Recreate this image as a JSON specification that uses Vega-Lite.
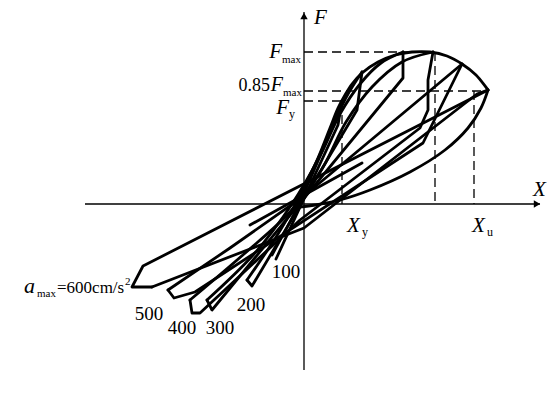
{
  "$schema": "https://vega.github.io/schema/vega-lite/v6.json",
  "width": 547, "height": 395, "padding": 0, "autosize": "none",
  "background": "white",
  "config": {"view": {"stroke": null}},
  "datasets": {
    "axes": [
      {"id": "v", "o": 0, "x": 0, "y": 192}, {"id": "v", "o": 1, "x": 0, "y": -166},
      {"id": "h", "o": 0, "x": -219, "y": 0}, {"id": "h", "o": 1, "x": 236, "y": 0}
    ],
    "arrows": [
      {"s": "triangle-up", "x": 0, "y": 188},
      {"s": "triangle-right", "x": 233, "y": 0}
    ],
    "dash": [
      {"id": "fmax", "o": 0, "x": 0, "y": 152}, {"id": "fmax", "o": 1, "x": 129, "y": 152},
      {"id": "f85", "o": 0, "x": 0, "y": 113}, {"id": "f85", "o": 1, "x": 184, "y": 113},
      {"id": "fy", "o": 0, "x": 0, "y": 103}, {"id": "fy", "o": 1, "x": 38, "y": 103},
      {"id": "xy", "o": 0, "x": 38, "y": 103}, {"id": "xy", "o": 1, "x": 38, "y": 0},
      {"id": "xm", "o": 0, "x": 131, "y": 152}, {"id": "xm", "o": 1, "x": 131, "y": 0},
      {"id": "xu", "o": 0, "x": 170, "y": 113}, {"id": "xu", "o": 1, "x": 170, "y": 0}
    ],
    "cur": [
      {"id": "env", "o": 0, "x": -8, "y": -6}, {"id": "env", "o": 1, "x": 0, "y": 16},
      {"id": "env", "o": 2, "x": 14, "y": 46}, {"id": "env", "o": 3, "x": 26, "y": 76},
      {"id": "env", "o": 4, "x": 34, "y": 96}, {"id": "env", "o": 5, "x": 41, "y": 109},
      {"id": "env", "o": 6, "x": 48, "y": 120}, {"id": "env", "o": 7, "x": 58, "y": 131},
      {"id": "env", "o": 8, "x": 74, "y": 142}, {"id": "env", "o": 9, "x": 91, "y": 149},
      {"id": "env", "o": 10, "x": 108, "y": 152}, {"id": "env", "o": 11, "x": 126, "y": 152},
      {"id": "env", "o": 12, "x": 143, "y": 148}, {"id": "env", "o": 13, "x": 158, "y": 140},
      {"id": "env", "o": 14, "x": 172, "y": 129}, {"id": "env", "o": 15, "x": 184, "y": 114},
      {"id": "unl", "o": 0, "x": 184, "y": 114}, {"id": "unl", "o": 1, "x": 177, "y": 96},
      {"id": "unl", "o": 2, "x": 164, "y": 76}, {"id": "unl", "o": 3, "x": 141, "y": 54},
      {"id": "unl", "o": 4, "x": 106, "y": 32}, {"id": "unl", "o": 5, "x": 66, "y": 14},
      {"id": "unl", "o": 6, "x": 36, "y": 4}, {"id": "unl", "o": 7, "x": 11, "y": -1},
      {"id": "unl", "o": 8, "x": -4, "y": -3},
      {"id": "u400", "o": 0, "x": -114, "y": -96}, {"id": "u400", "o": 1, "x": -60, "y": -50},
      {"id": "u400", "o": 2, "x": -14, "y": -8}, {"id": "u400", "o": 3, "x": 18, "y": 35},
      {"id": "u400", "o": 4, "x": 42, "y": 82}, {"id": "u400", "o": 5, "x": 68, "y": 117},
      {"id": "u400", "o": 6, "x": 98, "y": 142}, {"id": "u400", "o": 7, "x": 129, "y": 152},
      {"id": "u300", "o": 0, "x": -97, "y": -96}, {"id": "u300", "o": 1, "x": -50, "y": -50},
      {"id": "u300", "o": 2, "x": -12, "y": 0}, {"id": "u300", "o": 3, "x": 16, "y": 48},
      {"id": "u300", "o": 4, "x": 36, "y": 90}, {"id": "u300", "o": 5, "x": 56, "y": 120},
      {"id": "u300", "o": 6, "x": 77, "y": 141}, {"id": "u300", "o": 7, "x": 99, "y": 152},
      {"id": "u200", "o": 0, "x": -57, "y": -76}, {"id": "u200", "o": 1, "x": -26, "y": -30},
      {"id": "u200", "o": 2, "x": -2, "y": 12}, {"id": "u200", "o": 3, "x": 18, "y": 54},
      {"id": "u200", "o": 4, "x": 33, "y": 88}, {"id": "u200", "o": 5, "x": 44, "y": 110},
      {"id": "u200", "o": 6, "x": 58, "y": 132},
      {"id": "u100", "o": 0, "x": -32, "y": -51}, {"id": "u100", "o": 1, "x": -6, "y": -2},
      {"id": "u100", "o": 2, "x": 16, "y": 48}, {"id": "u100", "o": 3, "x": 38, "y": 103}
    ],
    "lin": [
      {"id": "c600", "o": 0, "x": -152, "y": -83}, {"id": "c600", "o": 1, "x": 0, "y": -24},
      {"id": "c600", "o": 2, "x": 173, "y": 110}, {"id": "c600", "o": 3, "x": 184, "y": 114},
      {"id": "d600", "o": 0, "x": -152, "y": -83}, {"id": "d600", "o": 1, "x": -172, "y": -83},
      {"id": "d600", "o": 2, "x": -161, "y": -62}, {"id": "d600", "o": 3, "x": 184, "y": 114},
      {"id": "u500", "o": 0, "x": -136, "y": -86}, {"id": "u500", "o": 1, "x": -74, "y": -44},
      {"id": "u500", "o": 2, "x": 0, "y": 8}, {"id": "u500", "o": 3, "x": 158, "y": 140},
      {"id": "l500", "o": 0, "x": 158, "y": 140}, {"id": "l500", "o": 1, "x": 119, "y": 61},
      {"id": "l500", "o": 2, "x": -109, "y": -88}, {"id": "l500", "o": 3, "x": -130, "y": -94},
      {"id": "l500", "o": 4, "x": -136, "y": -86},
      {"id": "l400", "o": 0, "x": 129, "y": 152}, {"id": "l400", "o": 1, "x": 124, "y": 124},
      {"id": "l400", "o": 2, "x": 124, "y": 94}, {"id": "l400", "o": 3, "x": 116, "y": 76},
      {"id": "l400", "o": 4, "x": -4, "y": -16}, {"id": "l400", "o": 5, "x": -104, "y": -109},
      {"id": "l400", "o": 6, "x": -112, "y": -109}, {"id": "l400", "o": 7, "x": -114, "y": -96},
      {"id": "l300", "o": 0, "x": 99, "y": 152}, {"id": "l300", "o": 1, "x": 99, "y": 126},
      {"id": "l300", "o": 2, "x": -92, "y": -106}, {"id": "l300", "o": 3, "x": -97, "y": -96},
      {"id": "l200", "o": 0, "x": 58, "y": 132}, {"id": "l200", "o": 1, "x": 53, "y": 94},
      {"id": "l200", "o": 2, "x": -52, "y": -82}, {"id": "l200", "o": 3, "x": -57, "y": -76},
      {"id": "l100", "o": 0, "x": 38, "y": 103}, {"id": "l100", "o": 1, "x": 34, "y": 79},
      {"id": "l100", "o": 2, "x": -28, "y": -55},
      {"id": "e100", "o": 0, "x": -54, "y": -21}, {"id": "e100", "o": 1, "x": 58, "y": 41}
    ],
    "tItalicL": [
      {"x": 10, "y": 180, "t": "F", "s": 21},
      {"x": 229, "y": 8, "t": "X", "s": 21},
      {"x": 43, "y": -28, "t": "X", "s": 21},
      {"x": 168, "y": -28, "t": "X", "s": 21},
      {"x": -280, "y": -89, "t": "a", "s": 22}
    ],
    "tItalicR": [
      {"x": -22, "y": 146, "t": "F", "s": 21},
      {"x": -21, "y": 113, "t": "F", "s": 20},
      {"x": -15, "y": 90, "t": "F", "s": 21}
    ],
    "tNormR": [
      {"x": -34, "y": 113, "t": "0.85", "s": 18}
    ],
    "tNormL": [
      {"x": -22, "y": 141, "t": "max", "s": 11},
      {"x": -21, "y": 108.5, "t": "max", "s": 11},
      {"x": -15, "y": 86, "t": "y", "s": 12},
      {"x": 58, "y": -32, "t": "y", "s": 12},
      {"x": 183, "y": -32, "t": "u", "s": 12},
      {"x": -267, "y": -93, "t": "max", "s": 11},
      {"x": -247, "y": -89, "t": "=600cm/s", "s": 17},
      {"x": -179, "y": -81, "t": "2", "s": 11}
    ],
    "tNormC": [
      {"x": -155, "y": -116, "t": "500", "s": 19},
      {"x": -122, "y": -130, "t": "400", "s": 19},
      {"x": -84, "y": -130, "t": "300", "s": 19},
      {"x": -53, "y": -107, "t": "200", "s": 19},
      {"x": -18, "y": -74, "t": "100", "s": 19}
    ]
  },
  "encoding": {
    "x": {"field": "x", "type": "quantitative", "scale": {"domain": [-304, 243], "nice": false, "zero": false}, "axis": null},
    "y": {"field": "y", "type": "quantitative", "scale": {"domain": [-191, 204], "nice": false, "zero": false}, "axis": null}
  },
  "layer": [
    {"data": {"name": "axes"}, "mark": {"type": "line", "color": "black", "strokeWidth": 1.3},
     "encoding": {"detail": {"field": "id"}, "order": {"field": "o"}}},
    {"data": {"name": "arrows"}, "mark": {"type": "point", "filled": true, "color": "black", "opacity": 1, "size": 55},
     "encoding": {"shape": {"field": "s", "type": "nominal", "scale": null}}},
    {"data": {"name": "dash"}, "mark": {"type": "line", "color": "black", "strokeWidth": 1.3, "strokeDash": [9, 5]},
     "encoding": {"detail": {"field": "id"}, "order": {"field": "o"}}},
    {"data": {"name": "cur"}, "mark": {"type": "line", "color": "black", "strokeWidth": 2.8, "interpolate": "catmull-rom", "strokeJoin": "round", "strokeCap": "round"},
     "encoding": {"detail": {"field": "id"}, "order": {"field": "o"}}},
    {"data": {"name": "lin"}, "mark": {"type": "line", "color": "black", "strokeWidth": 2.8, "strokeJoin": "round", "strokeCap": "round"},
     "encoding": {"detail": {"field": "id"}, "order": {"field": "o"}}},
    {"data": {"name": "tItalicL"}, "mark": {"type": "text", "font": "Liberation Serif", "fontStyle": "italic", "align": "left", "baseline": "alphabetic", "color": "black"},
     "encoding": {"text": {"field": "t"}, "size": {"field": "s", "type": "quantitative", "scale": null}}},
    {"data": {"name": "tItalicR"}, "mark": {"type": "text", "font": "Liberation Serif", "fontStyle": "italic", "align": "right", "baseline": "alphabetic", "color": "black"},
     "encoding": {"text": {"field": "t"}, "size": {"field": "s", "type": "quantitative", "scale": null}}},
    {"data": {"name": "tNormR"}, "mark": {"type": "text", "font": "Liberation Serif", "align": "right", "baseline": "alphabetic", "color": "black"},
     "encoding": {"text": {"field": "t"}, "size": {"field": "s", "type": "quantitative", "scale": null}}},
    {"data": {"name": "tNormL"}, "mark": {"type": "text", "font": "Liberation Serif", "align": "left", "baseline": "alphabetic", "color": "black"},
     "encoding": {"text": {"field": "t"}, "size": {"field": "s", "type": "quantitative", "scale": null}}},
    {"data": {"name": "tNormC"}, "mark": {"type": "text", "font": "Liberation Serif", "align": "center", "baseline": "alphabetic", "color": "black"},
     "encoding": {"text": {"field": "t"}, "size": {"field": "s", "type": "quantitative", "scale": null}}}
  ]
}
